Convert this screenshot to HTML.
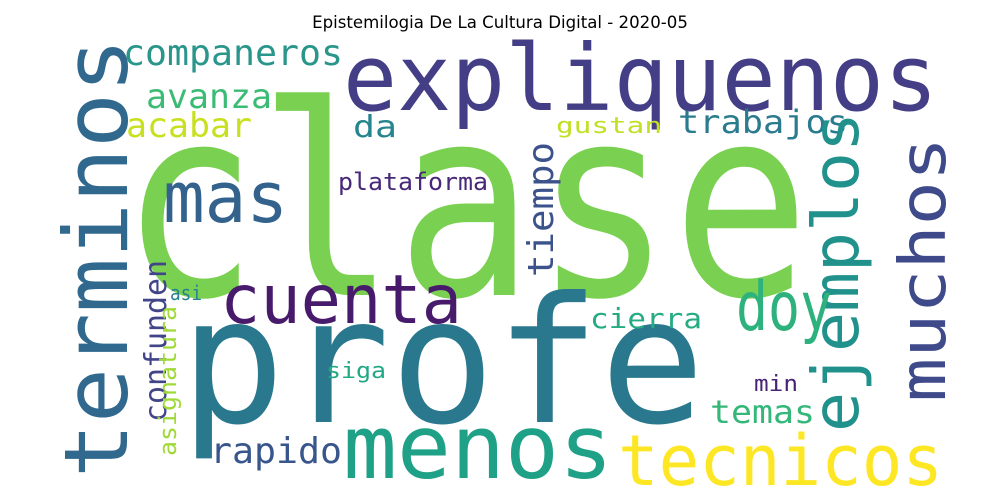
<!DOCTYPE html>
<html><head><meta charset="utf-8"><style>
html,body{margin:0;padding:0;background:#fff;width:1000px;height:500px;overflow:hidden}
svg text{font-family:"DejaVu Sans Mono","Liberation Mono",monospace}
</style></head><body>
<svg id="cloud" width="1000" height="500" xmlns="http://www.w3.org/2000/svg">
<rect width="1000" height="500" fill="#fff"/>
<text x="500" y="28" text-anchor="middle" font-size="16.6" style="font-family:'DejaVu Sans','Liberation Sans',sans-serif" fill="#000">Epistemilogia De La Cultura Digital - 2020-05</text>
</svg>
<script>
const words = ["clase","profe","expliquenos","terminos","mas","cuenta","companeros","avanza","acabar","da","trabajos","gustan","tiempo","plataforma","ejemplos","muchos","doy","confunden","asi","asignatura","cierra","siga","min","temas","rapido","menos","tecnicos"];
const sizes = [265,175,92,88,70,68,36,34,34,30,32,22,36,24,64,64,68,30,20,24,28,22,22,32,36,88,70];
const colors = ["#7ad151","#2a788e","#433e85","#31688e","#33638d","#481a6c","#2a968b","#3cbb75","#c8e020","#25858e","#2a7b8e","#c2df23","#3b528b","#482878","#21918c","#3e4a89","#2db27d","#414487","#26828e","#a0da39","#25ac82","#22a884","#482475","#35b779","#39568c","#1fa187","#fde725"];
// layout: [x, y(baseline start), ink length, rotated]
const layout = [[120,295,690,0],[180,422,525,0],[343,110,595,0],[127,478,440,1],[163,222,125,0],[220,323,242,0],[123,65,220,0],[146,108,126,0],[126,137,126,0],[353,137,44,0],[678,133,170,0],[556,133,106,0],[553,277,135,1],[338,190,150,0],[858,432,320,1],[945,402,265,1],[736,330,96,0],[166,422,162,1],[170,300,32,0],[176,456,150,1],[590,328,112,0],[326,378,60,0],[754,391,44,0],[710,423,105,0],[210,463,132,0],[343,478,270,0],[618,485,325,0]];
const svg = document.getElementById('cloud');
const NS = "http://www.w3.org/2000/svg";
words.forEach((w,i)=>{
  const [x,y,len,rot] = layout[i];
  const t = document.createElementNS(NS,'text');
  
  
  t.setAttribute('x', x);
  t.setAttribute('y', y);
  t.setAttribute('font-size', sizes[i]);
  t.setAttribute('fill', colors[i]);
  t.setAttribute('textLength', len);
  t.setAttribute('lengthAdjust', 'spacingAndGlyphs');
  if (rot) t.setAttribute('transform', `rotate(-90 ${x} ${y})`);
  t.textContent = w;
  svg.appendChild(t);
});
</script>
</body></html>
